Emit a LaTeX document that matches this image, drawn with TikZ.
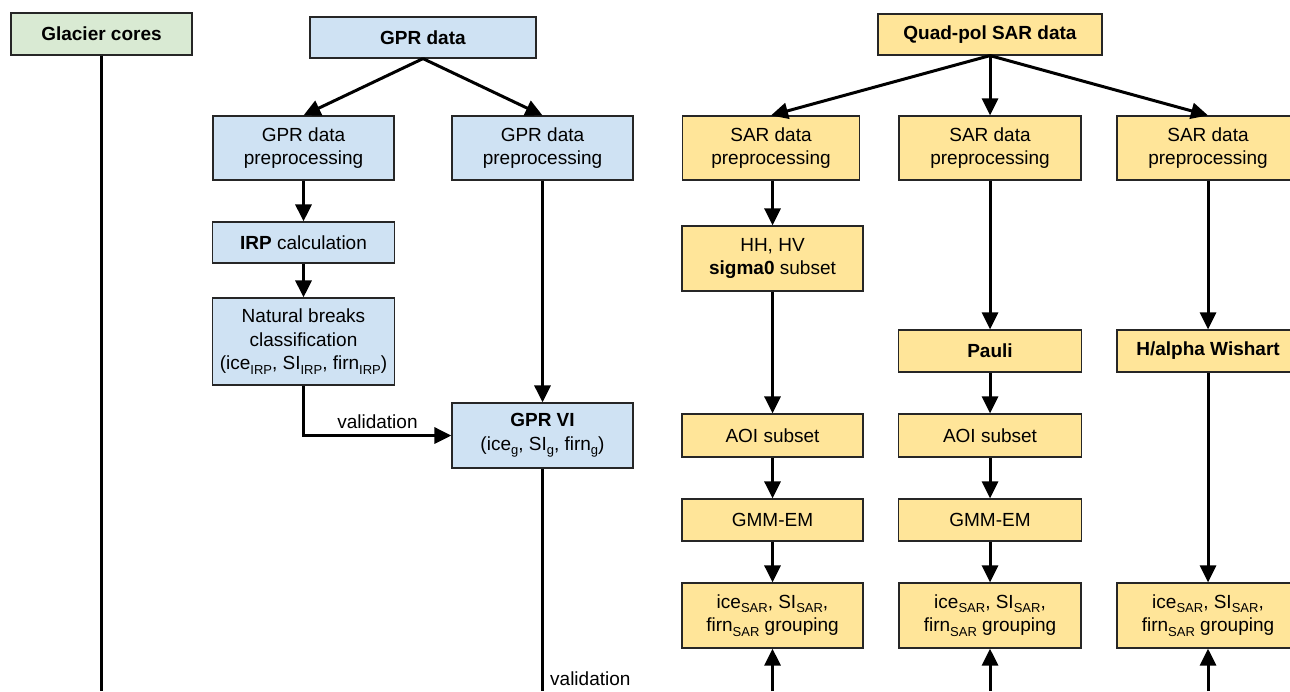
\documentclass[tikz,border=0pt]{standalone}
\usepackage{fontspec}
\setmainfont{Liberation Sans}
\usetikzlibrary{arrows.meta}
\newcommand\sbs[1]{\raisebox{-0.45ex}{\fontsize{13}{13}\selectfont #1}}
\definecolor{gblue}{HTML}{CFE2F3}
\definecolor{ggreen}{HTML}{D9EAD3}
\definecolor{gyellow}{HTML}{FFE599}
\begin{document}
\begin{tikzpicture}[x=1pt,y=-1pt,
  box/.style={draw=black!85, line width=1.2pt, align=center, inner sep=0pt,
    font=\fontsize{19}{23.5}\selectfont},
  bluebox/.style={box, fill=gblue},
  greenbox/.style={box, fill=ggreen},
  yellowbox/.style={box, fill=gyellow},
  arr/.style={line width=3pt, -{Triangle[length=17pt,width=16pt]}},
  ln/.style={line width=3pt},
  lbl/.style={font=\fontsize{19}{23.5}\selectfont, inner sep=0pt}]
\useasboundingbox (0,0) rectangle (1290,691);
\clip (0,0) rectangle (1290,691);
\fill[white] (0,0) rectangle (1290,691);

% left column
\node[greenbox, minimum width=181pt, minimum height=42pt] (glacier) at (101.5,34) {\textbf{Glacier cores}};
\coordinate (glacierend) at (101.5,691);

% GPR
\node[bluebox, minimum width=226pt, minimum height=41pt] (gprdata) at (423,37.5) {\textbf{GPR data}};
\node[bluebox, minimum width=181pt, minimum height=64pt] (gpre1) at (303.5,148) {GPR data\\preprocessing};
\node[bluebox, minimum width=181pt, minimum height=64pt] (gpre2) at (542.5,148) {GPR data\\preprocessing};
\node[bluebox, minimum width=182pt, minimum height=41pt] (irp) at (303.5,242.5) {\textbf{IRP} calculation};
\node[bluebox, minimum width=182pt, minimum height=87pt] (nb) at (303.5,341.5) {Natural breaks\\classification\\(ice\sbs{IRP}, SI\sbs{IRP}, firn\sbs{IRP})};
\node[bluebox, minimum width=181pt, minimum height=65pt] (gprvi) at (542.5,435.5) {\textbf{GPR VI}\\(ice\sbs{g}, SI\sbs{g}, firn\sbs{g})};
\coordinate (gprviend) at (542.5,691);

% SAR
\node[yellowbox, minimum width=224pt, minimum height=41pt] (quad) at (990,34.5) {\textbf{Quad-pol SAR data}};
\node[yellowbox, minimum width=177pt, minimum height=64pt] (sar1) at (771,148) {SAR data\\preprocessing};
\node[yellowbox, minimum width=182pt, minimum height=64pt] (sar2) at (990,148) {SAR data\\preprocessing};
\node[yellowbox, minimum width=182pt, minimum height=64pt] (sar3) at (1208,148) {SAR data\\preprocessing};
\node[yellowbox, minimum width=181pt, minimum height=65pt] (sigma) at (772.5,258.5) {HH, HV\\\textbf{sigma0} subset};
\node[yellowbox, minimum width=183pt, minimum height=42pt] (pauli) at (990,351) {\textbf{Pauli}};
\node[yellowbox, minimum width=182pt, minimum height=42pt] (halpha) at (1208,351) {\textbf{H/alpha Wishart}};
\node[yellowbox, minimum width=181pt, minimum height=43pt] (aoi1) at (772.5,435.5) {AOI subset};
\node[yellowbox, minimum width=183pt, minimum height=43pt] (aoi2) at (990,435.5) {AOI subset};
\node[yellowbox, minimum width=181pt, minimum height=42pt] (gmm1) at (772.5,520) {GMM-EM};
\node[yellowbox, minimum width=183pt, minimum height=42pt] (gmm2) at (990,520) {GMM-EM};
\node[yellowbox, minimum width=181pt, minimum height=65pt] (grp1) at (772.5,615.5) {ice\sbs{SAR}, SI\sbs{SAR},\\firn\sbs{SAR} grouping};
\node[yellowbox, minimum width=182pt, minimum height=65pt] (grp2) at (990,615.5) {ice\sbs{SAR}, SI\sbs{SAR},\\firn\sbs{SAR} grouping};
\node[yellowbox, minimum width=182pt, minimum height=65pt] (grp3) at (1208,615.5) {ice\sbs{SAR}, SI\sbs{SAR},\\firn\sbs{SAR} grouping};
\coordinate (b1) at (772.5,691);
\coordinate (b2) at (990,691);
\coordinate (b3) at (1208,691);

% connectors
\draw[ln] (glacier.south) -- (glacierend);
\draw[arr] (gprdata.south) -- (gpre1.north);
\draw[arr] (gprdata.south) -- (gpre2.north);
\draw[arr] (gpre1.south) -- (irp.north);
\draw[arr] (irp.south) -- (nb.north);
\draw[arr] (nb.south) |- node[lbl, pos=0.75, above=5pt] (val1) {validation} (gprvi.west);
\draw[arr] (gpre2.south) -- (gprvi.north);
\draw[ln] (gprvi.south) -- (gprviend);
\node[lbl, anchor=west] (val2) at (550,679) {validation};

\draw[arr] (quad.south) -- (sar1.north);
\draw[arr] (quad.south) -- (sar2.north);
\draw[arr] (quad.south) -- (sar3.north);
\draw[arr] (sigma.north |- sar1.south) -- (sigma.north);
\draw[arr] (sigma.south) -- (aoi1.north);
\draw[arr] (aoi1.south) -- (gmm1.north);
\draw[arr] (gmm1.south) -- (grp1.north);
\draw[arr] (sar2.south) -- (pauli.north);
\draw[arr] (pauli.south) -- (aoi2.north);
\draw[arr] (aoi2.south) -- (gmm2.north);
\draw[arr] (gmm2.south) -- (grp2.north);
\draw[arr] (sar3.south) -- (halpha.north);
\draw[arr] (halpha.south) -- (grp3.north);
\draw[arr] (b1) -- (grp1.south);
\draw[arr] (b2) -- (grp2.south);
\draw[arr] (b3) -- (grp3.south);
\end{tikzpicture}
\end{document}
